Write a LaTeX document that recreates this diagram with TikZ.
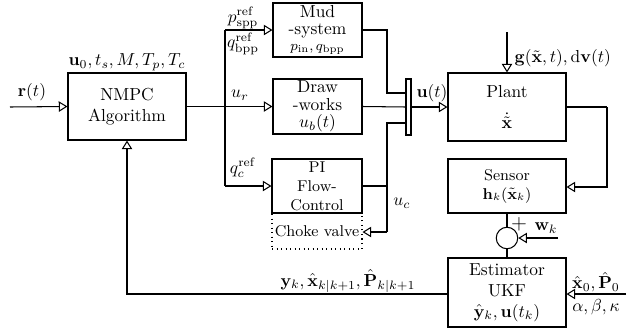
\documentclass[tikz,border=0pt]{standalone}
\usetikzlibrary{arrows.meta}
\begin{document}
\begin{tikzpicture}[x=0.575pt,y=-0.575pt,
  line width=0.6pt,
  box/.style={draw,rectangle,inner sep=0pt,align=center,line width=0.6pt},
  arr/.style={-{Triangle[open,length=5pt,width=6pt]}},
  lbl/.style={inner sep=0pt}]
\useasboundingbox (0,0) rectangle (634,329);
% boxes
\node[box,minimum width=118*0.575pt,minimum height=67*0.575pt] (nmpc) at (127,106.5) {NMPC\\Algorithm};
\node[box,minimum width=89*0.575pt,minimum height=54*0.575pt] (mud) at (317.5,30) {Mud\\[-2pt]-system\\[-3pt]{\footnotesize$p_{\mathrm{in}},q_{\mathrm{bpp}}$}};
\node[box,minimum width=89*0.575pt,minimum height=55*0.575pt] (draw) at (317.5,106.5) {Draw\\[-2pt]-works\\[-2pt]$u_b(t)$};
\node[box,font=\small,minimum width=90*0.575pt,minimum height=54*0.575pt] (pi) at (317,186) {PI\\Flow-\\Control};
\node[draw,dotted,font=\small,inner sep=0pt,minimum width=90*0.575pt,minimum height=36*0.575pt] (choke) at (317,231) {Choke valve};
\node[box,fill=white,minimum width=5*0.575pt,minimum height=56*0.575pt] (bar) at (408.5,107) {};
\node[box,minimum width=118*0.575pt,minimum height=68*0.575pt] (plant) at (507,107) {Plant\\[6pt]$\dot{\tilde{\mathbf{x}}}$};
\node[box,font=\small,minimum width=118*0.575pt,minimum height=54*0.575pt] (sensor) at (507,186) {Sensor\\$\mathbf{h}_k(\tilde{\mathbf{x}}_k)$};
\node[draw,circle,minimum size=21.5*0.575pt,inner sep=0pt] (sum) at (507,238) {};
\node[box,minimum width=118*0.575pt,minimum height=69*0.575pt] (est) at (507,292.5) {Estimator\\UKF\\$\hat{\mathbf{y}}_k,\mathbf{u}(t_k)$};
% coordinates
\coordinate (rin) at (10,107);
\coordinate (bus1) at (225,30);
\coordinate (bus2) at (225,186);
\coordinate (m1) at (387,93);
\coordinate (b1) at (406,93);
\coordinate (b2) at (406,107);
\coordinate (b3) at (406,123);
\coordinate (c1) at (387,123);
\coordinate (c2) at (387,186);
\coordinate (c3) at (387,232);
\coordinate (gin) at (507,32);
\coordinate (p1) at (607,107);
\coordinate (p2) at (607,187);
\coordinate (win) at (558,238);
\coordinate (xin) at (626,294);
\coordinate (fb) at (127,294);
% connectors
\draw[arr] (rin) -- (nmpc.west);
\draw[arr] (nmpc.east) -- (draw.west);
\draw (bus1) -- (bus2);
\draw[arr] (bus1) -- (mud.west |- bus1);
\draw[arr] (bus2) -- (pi.west |- bus2);
\draw (mud.east |- bus1) -| (m1) -- (b1);
\draw (draw.east) -- (b2);
\draw[arr] (bar.east |- b2) -- (plant.west |- b2);
\draw (pi.east |- c2) -- (c2);
\draw (b3) -- (c1) -- (c3);
\draw[arr] (c3) -- (choke.east |- c3);
\draw[arr] (gin) -- (plant.north -| gin);
\draw (plant.east |- p1) -- (p1);
\draw[arr] (p1) -- (p2) -- (sensor.east |- p2);
\draw (sensor.south -| sum) -- (sum.north);
\draw (sum.south) -- (est.north -| sum);
\draw[arr] (win) -- (sum.east);
\draw[arr] (xin) -- (est.east |- xin);
\draw[arr] (est.west |- xin) -- (fb) -- (nmpc.south -| fb);
% labels
\node[lbl] at (32,92) {$\mathbf{r}(t)$};
\node[lbl] at (127,62) {$\mathbf{u}_0,t_s,M,T_p,T_c$};
\node[lbl] at (243,18) {$p^{\mathrm{ref}}_{\mathrm{spp}}$};
\node[lbl] at (243,44) {$q^{\mathrm{ref}}_{\mathrm{bpp}}$};
\node[lbl] at (240,95) {$u_r$};
\node[lbl] at (243,168) {$q^{\mathrm{ref}}_c$};
\node[lbl] at (432,93) {$\mathbf{u}(t)$};
\node[lbl,anchor=west] at (514,58) {$\mathbf{g}(\tilde{\mathbf{x}},t),\mathrm{d}\mathbf{v}(t)$};
\node[lbl] at (402,203) {$u_c$};
\node[lbl] at (348,281) {$\mathbf{y}_k,\hat{\mathbf{x}}_{k|k+1},\hat{\mathbf{P}}_{k|k+1}$};
\node[lbl] at (546,228) {$\mathbf{w}_k$};
\node[lbl] at (519,224) {\large$+$};
\node[lbl] at (596,282) {$\hat{\mathbf{x}}_0,\hat{\mathbf{P}}_0$};
\node[lbl] at (596,307) {$\alpha,\beta,\kappa$};
\end{tikzpicture}
\end{document}
